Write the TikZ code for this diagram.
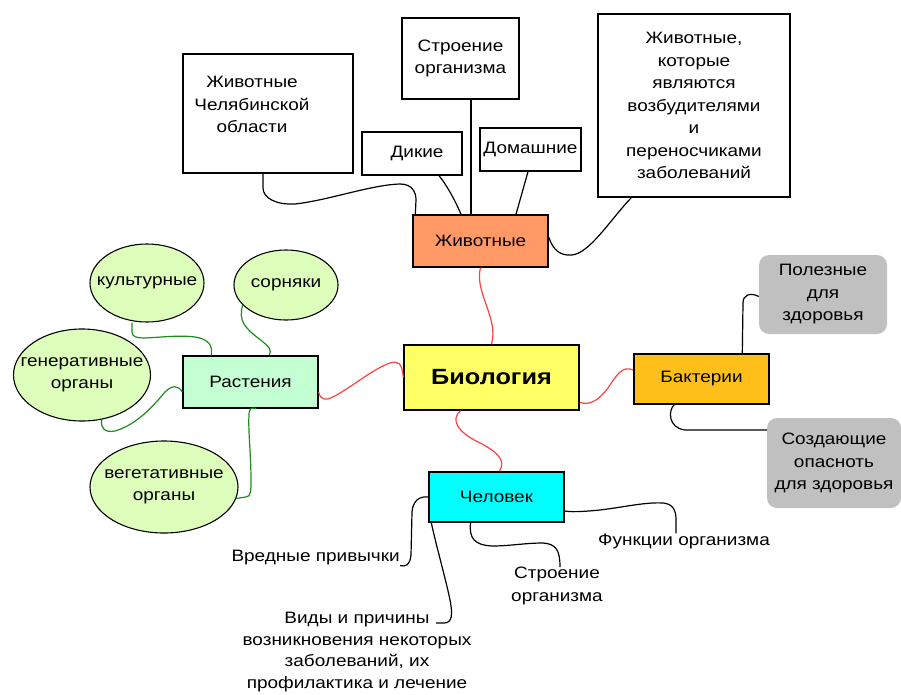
\documentclass[tikz,border=0pt]{standalone}
\usepackage{fontspec}
\setmainfont[FakeStretch=1.15]{Liberation Sans}
\usetikzlibrary{shapes.geometric}

\definecolor{zhivfill}{HTML}{FF9966}
\definecolor{biofill}{HTML}{FFFF66}
\definecolor{rastfill}{HTML}{C4FFD4}
\definecolor{baktfill}{HTML}{FFBF1A}
\definecolor{chelfill}{HTML}{00FFFF}
\definecolor{greyfill}{HTML}{C0C0C0}
\definecolor{ovalfill}{HTML}{DDFFBB}
\definecolor{linkred}{HTML}{FF4040}
\definecolor{linkgreen}{HTML}{1E8C1E}

\tikzset{
  base/.style={font=\fontsize{16.5}{22.5}\selectfont, align=center, inner sep=0pt},
  box/.style={base, rectangle, draw=black, line width=1.4pt},
  colbox/.style={box, fill=#1},
  oval/.style={base, ellipse, draw=black, line width=1.1pt, fill=ovalfill},
  greybox/.style={base, rectangle, rounded corners=10pt, fill=greyfill},
  redlink/.style={draw=linkred, line width=1.2pt},
  greenlink/.style={draw=linkgreen, line width=1.2pt},
  blacklink/.style={draw=black, line width=1.2pt},
}

\begin{document}
\begin{tikzpicture}[x=1pt, y=-1pt]
\useasboundingbox (0,0) rectangle (901,695);

% --- central topic and its four branches
\node[colbox=biofill, minimum width=175pt, minimum height=65pt,
      font=\fontsize{22}{26}\selectfont\bfseries] (bio) at (491.5,377.5) {Биология};
\node[colbox=zhivfill, minimum width=135pt, minimum height=52pt] (zhiv) at (480.5,241) {Животные};
\node[colbox=rastfill, minimum width=135pt, minimum height=52pt] (rast) at (250.5,382) {Растения};
\node[colbox=baktfill, minimum width=135pt, minimum height=50pt] (bakt) at (701.5,379) {Бактерии};
\node[colbox=chelfill, minimum width=135pt, minimum height=50pt] (chelovek) at (496.5,497) {Человек};

% --- animals
\node[box, minimum width=170pt, minimum height=119pt,
      label={[base, xshift=-16pt, yshift=9pt]center:Животные\\Челябинской\\области}] (chel) at (268,113.5) {};
\node[box, minimum width=117pt, minimum height=81pt] (stroenTop) at (460.5,58.5) {Строение\\организма};
\node[box, minimum width=100pt, minimum height=43pt] (dikie) at (412,153.5) {\hspace*{10pt}Дикие};
\node[box, minimum width=101pt, minimum height=43pt] (domash) at (530.5,149.5) {Домашние};
\node[box, minimum width=192pt, minimum height=183pt] (bigbox) at (694,105.5)
  {Животные,\\которые\\являются\\возбудителями\\и\\переносчиками\\заболеваний};

% --- plants
\node[oval, minimum width=114pt, minimum height=78pt, label={[base]center:культурные}] (kult) at (147,283) {};
\node[oval, minimum width=104pt, minimum height=70pt, label={[base]center:сорняки}] (sorn) at (286,285) {};
\node[oval, minimum width=137pt, minimum height=92pt, label={[base]center:генеративные\\органы}] (gener) at (82,375) {};
\node[oval, minimum width=148pt, minimum height=92pt, label={[base]center:вегетативные\\органы}] (veget) at (164,487) {};

% --- bacteria
\node[greybox, minimum width=128pt, minimum height=79pt] (polez) at (823,294.5) {Полезные\\для\\здоровья};
\node[greybox, minimum width=134pt, minimum height=90pt] (sozd) at (834,463) {Создающие\\опасноть\\для здоровья};

% --- human
\node[base, anchor=east] (vredn) at (400,558) {Вредные привычки};
\node[base, font=\fontsize{16.5}{21.8}\selectfont] (vidy) at (357,652)
  {Виды и причины\\возникновения некоторых\\заболеваний, их\\профилактика и лечение};
\node[base] (stroenLow) at (557,586) {Строение\\организма};
\node[base] (funk) at (684,541) {Функции организма};
\coordinate (vidyEnd) at (436,623);

% --- red links from the centre
\draw[redlink] (bio.north) .. controls (499,318) and (474,292) .. (zhiv.south);
\draw[redlink] (bio.west) .. controls (402,362) and (398,361) .. (390,363)
  .. controls (370,370) and (345,393) .. (328,399)
  .. controls (322,400) and (319,396) .. ([yshift=-10pt]rast.east);
\draw[redlink] ([yshift=-25pt]bio.east) .. controls (592,406) and (600,398) .. (608,388)
  .. controls (616,376) and (622,365) .. ([yshift=9pt]bakt.west);
\draw[redlink] ([xshift=-31pt]bio.south) .. controls (450,420) and (458,432) .. (478,442)
  .. controls (498,452) and (506,460) .. ([xshift=3pt]chelovek.north);

% --- animal links
\draw[blacklink] ([xshift=-5pt]chel.south) -- (263,188) .. controls (263,198) and (276,205) .. (295,204)
  .. controls (330,200) and (370,185) .. (400,184)
  .. controls (412,184) and (416,192) .. (416,200) -- ([xshift=3pt]zhiv.north west);
\draw[blacklink] ([xshift=27pt]dikie.south) .. controls (446,184) and (455,200) .. ([xshift=-19.5pt]zhiv.north);
\draw[blacklink] ([xshift=10.5pt]stroenTop.south) -- ([xshift=-9.5pt]zhiv.north);
\draw[blacklink] ([xshift=-2.5pt]domash.south) -- ([xshift=35.5pt]zhiv.north);
\draw[blacklink] ([yshift=4pt]zhiv.east) .. controls (553,250) and (560,256) .. (572,255)
  .. controls (590,253) and (610,220) .. ([xshift=34pt]bigbox.south west);

% --- plant links
\draw[greenlink] ([xshift=-15pt]kult.south) -- (132,332) .. controls (132,337) and (137,338) .. (145,338)
  .. controls (165,337) and (180,335) .. (195,337)
  .. controls (208,339) and (213,345) .. ([xshift=29pt]rast.north west);
\draw[greenlink] (sorn.205) .. controls (238,320) and (245,328) .. (258,338)
  .. controls (270,347) and (272,350) .. ([xshift=87pt]rast.north west);
\draw[greenlink] (gener.294) .. controls (100,428) and (105,433) .. (115,431)
  .. controls (135,425) and (150,410) .. (165,392)
  .. controls (172,385) and (178,385) .. ([yshift=-10pt]rast.west);
\draw[greenlink] (veget.351) -- (246,497) .. controls (251,497) and (251,490) .. (251,480)
  .. controls (251,455) and (248,430) .. (249,415)
  .. controls (249,408) and (252,407) .. ([xshift=6pt]rast.south);

% --- bacteria links
\draw[blacklink] ([xshift=109pt]bakt.north west) -- (743,303)
  .. controls (743,295) and (750,292) .. ([yshift=-2pt]polez.west);
\draw[blacklink] ([xshift=41pt]bakt.south west) .. controls (668,410) and (668,428) .. (685,430)
  -- ([yshift=33pt]sozd.west);

% --- human links
\draw[blacklink] (chelovek.west) .. controls (420,496) and (413,500) .. (412,512) -- (411,555)
  .. controls (410,565) and (406,567) .. (vredn.south east);
\draw[blacklink] ([xshift=3pt]chelovek.south west) .. controls (436,545) and (446,580) .. (450,600)
  .. controls (453,615) and (452,623) .. (444,623) -- (vidyEnd);
\draw[blacklink] ([xshift=-26pt]chelovek.south) .. controls (469,538) and (474,545) .. (492,546)
  .. controls (510,546) and (525,543) .. (543,543)
  .. controls (556,544) and (560,550) .. ([xshift=3pt]stroenLow.north);
\draw[blacklink] ([yshift=-14pt]chelovek.east) .. controls (570,512) and (580,512) .. (600,510)
  .. controls (625,507) and (645,502) .. (663,503)
  .. controls (673,504) and (676,510) .. (676,520) -- ([xshift=-8pt]funk.north);
\end{tikzpicture}
\end{document}
